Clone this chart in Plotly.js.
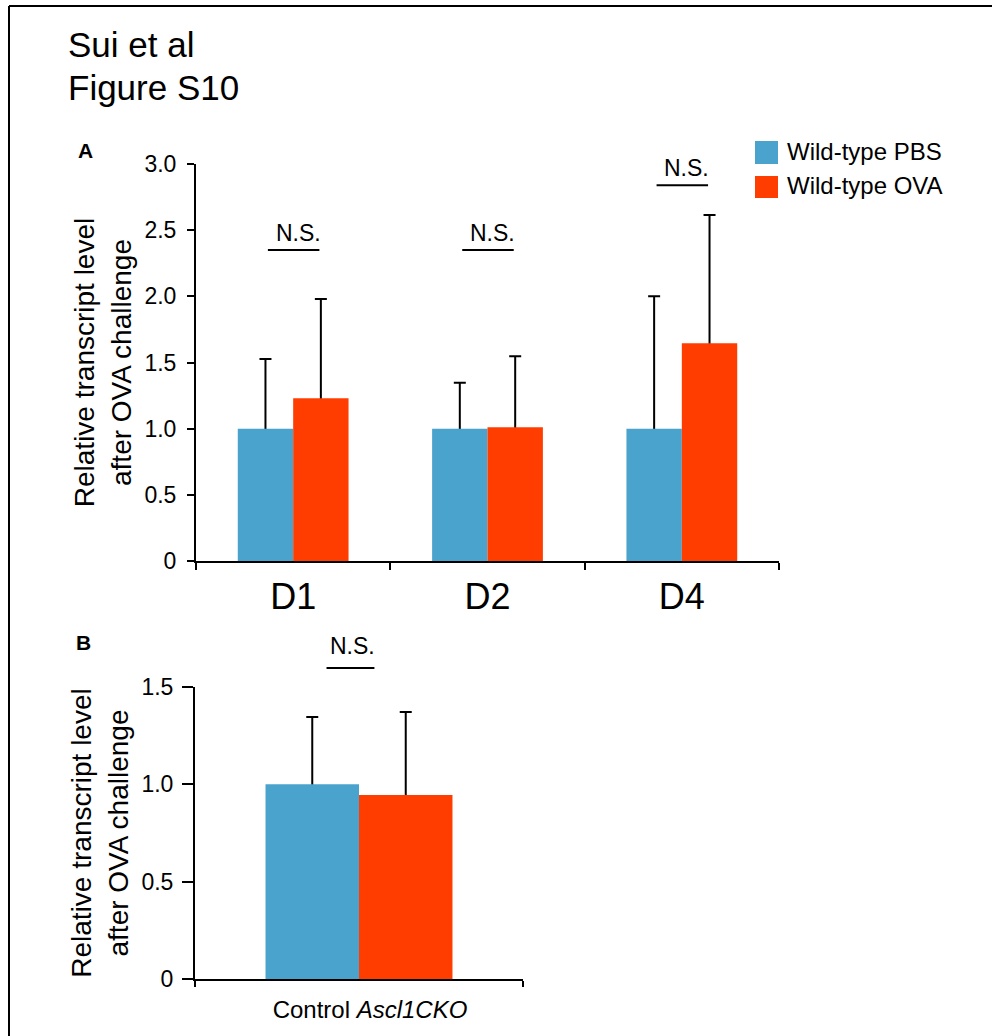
<!DOCTYPE html>
<html>
<head>
<meta charset="utf-8">
<script src="https://cdn.plot.ly/plotly-3.0.1.min.js"></script>
<style>html,body{margin:0;padding:0;background:#fff;}#chart{width:992px;height:1036px;}</style>
</head>
<body>
<div id="chart"></div>
<script>
// ---- data ----
const categoriesA = ['D1', 'D2', 'D4'];
const pbsA = [1.0, 1.0, 1.0];
const ovaA = [1.23, 1.01, 1.645];
const pbsErrA = [0.527, 0.347, 1.0];
const ovaErrA = [0.75, 0.537, 0.97];

const categoriesB = ['Control Ascl1CKO'];
const categoryLabelsB = ['Control <i>Ascl1CKO</i>'];
const pbsB = [1.0];
const ovaB = [0.945];
const pbsErrB = [0.346];
const ovaErrB = [0.426];

const tickValsA = [0, 0.5, 1.0, 1.5, 2.0, 2.5, 3.0];
const tickTextA = ['0', '0.5', '1.0', '1.5', '2.0', '2.5', '3.0'];
const tickValsB = [0, 0.5, 1.0, 1.5];
const tickTextB = ['0', '0.5', '1.0', '1.5'];

const seriesNames = ['Wild-type PBS', 'Wild-type OVA'];
const sigLabel = 'N.S.';

// ---- styling ----
const W = 992, H = 1036;
const px = x => x / W;
const py = y => 1 - y / H;
const FONT = '"Liberation Sans", Arial, Helvetica, sans-serif';
const BLUE = 'rgb(74,163,204)';
const RED = 'rgb(255,61,0)';
const colors = [BLUE, RED];
const groups = ['pbs', 'ova'];

function errBar(arr) {
  return {type: 'data', symmetric: true, array: arr, color: '#000', thickness: 2, width: 6};
}

// Error bars are drawn by transparent bars underneath; the visible bars are drawn on top,
// hiding the lower half of each (symmetric) error bar.
function panelTraces(cats, series, errs, xa, ya) {
  const under = series.map((vals, k) => ({
    type: 'bar', x: cats, y: vals, name: seriesNames[k], offsetgroup: groups[k],
    marker: {color: 'rgba(0,0,0,0)', line: {width: 0}}, error_y: errBar(errs[k]),
    xaxis: xa, yaxis: ya, showlegend: false, hoverinfo: 'skip'
  }));
  const over = series.map((vals, k) => ({
    type: 'bar', x: cats, y: vals, name: seriesNames[k], offsetgroup: groups[k],
    marker: {color: colors[k], line: {width: 0}},
    xaxis: xa, yaxis: ya, showlegend: false
  }));
  return under.concat(over);
}

const traces = [].concat(
  panelTraces(categoriesA, [pbsA, ovaA], [pbsErrA, ovaErrA], 'x', 'y'),
  panelTraces(categoriesB, [pbsB, ovaB], [pbsErrB, ovaErrB], 'x2', 'y2')
);

const yTitle = 'Relative transcript level<br>after OVA challenge';

const shapes = [
  // figure frame (top and left)
  {type: 'line', xref: 'paper', yref: 'paper', x0: px(9), x1: px(992), y0: py(6), y1: py(6), line: {color: '#000', width: 2}},
  {type: 'line', xref: 'paper', yref: 'paper', x0: px(9), x1: px(9), y0: py(6), y1: py(1036), line: {color: '#000', width: 2}},
  // legend swatches
  {type: 'rect', xref: 'paper', yref: 'paper', x0: px(755), x1: px(778), y0: py(141), y1: py(164), fillcolor: BLUE, line: {width: 0}},
  {type: 'rect', xref: 'paper', yref: 'paper', x0: px(755), x1: px(778), y0: py(176), y1: py(198), fillcolor: RED, line: {width: 0}}
];

const annotations = [
  {xref: 'paper', yref: 'paper', x: px(66), y: py(45), xanchor: 'left', yanchor: 'middle', showarrow: false,
   text: 'Sui et al', font: {family: FONT, size: 35, color: '#000'}},
  {xref: 'paper', yref: 'paper', x: px(66), y: py(87), xanchor: 'left', yanchor: 'middle', showarrow: false,
   text: 'Figure S10', font: {family: FONT, size: 35, color: '#000'}},
  {xref: 'paper', yref: 'paper', x: px(76), y: py(150), xanchor: 'left', yanchor: 'middle', showarrow: false,
   text: '<b>A</b>', font: {family: FONT, size: 21, color: '#000'}},
  {xref: 'paper', yref: 'paper', x: px(74), y: py(642), xanchor: 'left', yanchor: 'middle', showarrow: false,
   text: '<b>B</b>', font: {family: FONT, size: 21, color: '#000'}},
  {xref: 'paper', yref: 'paper', x: px(785), y: py(151), xanchor: 'left', yanchor: 'middle', showarrow: false,
   text: seriesNames[0], font: {family: FONT, size: 24, color: '#000'}},
  {xref: 'paper', yref: 'paper', x: px(785), y: py(186), xanchor: 'left', yanchor: 'middle', showarrow: false,
   text: seriesNames[1], font: {family: FONT, size: 24, color: '#000'}}
];

// significance markers, panel A
const sigA = [ {line: 2.35, text: 2.475}, {line: 2.35, text: 2.475}, {line: 2.84, text: 2.97} ];
categoriesA.forEach((c, i) => {
  shapes.push({type: 'line', xref: 'x', yref: 'y', x0: i - 0.13, x1: i + 0.135,
               y0: sigA[i].line, y1: sigA[i].line, line: {color: '#000', width: 2}});
  annotations.push({xref: 'x', yref: 'y', x: i + 0.025, y: sigA[i].text, xanchor: 'center', yanchor: 'middle',
                    showarrow: false, text: sigLabel, font: {family: FONT, size: 23, color: '#000'}});
});
// panel B
shapes.push({type: 'line', xref: 'x2', yref: 'y2 domain', x0: -0.099, x1: 0.047,
             y0: 1.598 / 1.5, y1: 1.598 / 1.5, line: {color: '#000', width: 2}});
annotations.push({xref: 'x2', yref: 'y2 domain', x: -0.02, y: 1.713 / 1.5, xanchor: 'center', yanchor: 'middle',
                  showarrow: false, text: sigLabel, font: {family: FONT, size: 23, color: '#000'}});

const axisCommon = {showline: true, linecolor: '#000', linewidth: 2, ticks: 'outside', tickcolor: '#000',
                    tickwidth: 2, showgrid: false, zeroline: false, fixedrange: true};

const layout = {
  width: W, height: H,
  margin: {l: 0, r: 0, t: 0, b: 0, pad: 0},
  paper_bgcolor: '#fff', plot_bgcolor: '#fff',
  font: {family: FONT, color: '#000'},
  barmode: 'group', bargap: 0.43, bargroupgap: 0,
  showlegend: false,
  xaxis: Object.assign({}, axisCommon, {
    domain: [px(196), px(779)], anchor: 'y', type: 'category', range: [-0.5, 2.5],
    tickson: 'boundaries', ticklen: 7, ticklabelstandoff: 3,
    tickfont: {family: FONT, size: 36, color: '#000'}
  }),
  yaxis: Object.assign({}, axisCommon, {
    domain: [py(561), py(164)], anchor: 'x', range: [0, 3], tickmode: 'array',
    tickvals: tickValsA, ticktext: tickTextA, ticklen: 7, ticklabelstandoff: 6,
    tickfont: {family: FONT, size: 23, color: '#000'},
    title: {text: yTitle, font: {family: FONT, size: 28, color: '#000'}, standoff: 5}
  }),
  xaxis2: Object.assign({}, axisCommon, {
    domain: [px(195), px(523)], anchor: 'y2', type: 'category', range: [-0.5, 0.5],
    tickson: 'boundaries', ticklen: 6, tickmode: 'array', tickvals: categoriesB, ticktext: categoryLabelsB,
    ticklabelstandoff: 8, ticklabelshift: 11,
    tickfont: {family: FONT, size: 24, color: '#000'}
  }),
  yaxis2: Object.assign({}, axisCommon, {
    domain: [py(979), py(687)], anchor: 'x2', range: [0, 1.5], tickmode: 'array',
    tickvals: tickValsB, ticktext: tickTextB, ticklen: 11, ticklabelstandoff: 4,
    tickfont: {family: FONT, size: 23, color: '#000'},
    title: {text: yTitle, font: {family: FONT, size: 28, color: '#000'}, standoff: 5}
  }),
  shapes: shapes,
  annotations: annotations
};

Plotly.newPlot('chart', traces, layout, {displayModeBar: false, staticPlot: true});
</script>
</body>
</html>
